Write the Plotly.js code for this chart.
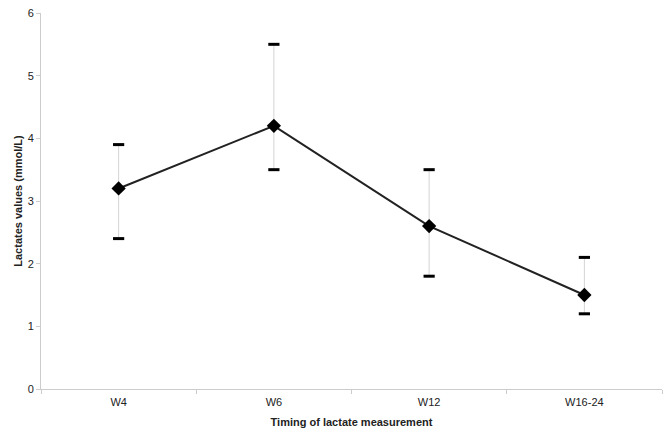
<!DOCTYPE html>
<html>
<head>
<meta charset="utf-8">
<script src="https://cdn.plot.ly/plotly-3.0.1.min.js"></script>
<style>
body{margin:0;background:#fff;}
#graph{width:672px;height:433px;}
</style>
</head>
<body>
<div id="graph"></div>
<script>
let weeks = ['W4','W6','W12','W16-24'];
let lactate = [3.2,4.2,2.6,1.5];
let upper = [3.9,5.5,3.5,2.1];
let lower = [2.4,3.5,1.8,1.2];

let plus = lactate.map((v,i)=>upper[i]-v);
let minus = lactate.map((v,i)=>v-lower[i]);

Plotly.newPlot('graph',[

// thin grey whiskers
{
x:weeks,
y:lactate,
mode:'lines+markers',
line:{color:'#222',width:2},
marker:{symbol:'diamond',size:11,color:'#000'},
error_y:{
type:'data',
symmetric:false,
array:plus,
arrayminus:minus,
color:'#d4d4d4',
thickness:1,
width:0
},
showlegend:false,
hoverinfo:'skip'
},

// black caps on the whiskers
{
x:weeks.concat(weeks),
y:upper.concat(lower),
mode:'markers',
marker:{symbol:'line-ew',size:8,line:{color:'#000',width:3}},
showlegend:false,
hoverinfo:'skip'
}

],

{
width:672,
height:433,
margin:{l:41,r:10,t:13,b:44},
paper_bgcolor:'#fff',
plot_bgcolor:'#fff',
font:{family:'Liberation Sans, Arial, sans-serif',size:11,color:'#222'},

xaxis:{
type:'category',
range:[-0.5,3.5],
tickson:'boundaries',
ticks:'outside',
ticklen:4,
tickcolor:'#ccc',
ticklabelstandoff:3,
showline:true,
linecolor:'#ccc',
showgrid:false,
zeroline:false,
title:{text:'<b>Timing of lactate measurement</b>',font:{size:11},standoff:11}
},

yaxis:{
range:[0,6],
dtick:1,
ticks:'outside',
ticklen:4,
tickcolor:'#ccc',
showline:true,
linecolor:'#ccc',
showgrid:false,
zeroline:false,
title:{text:'<b>Lactates values (mmol/L)</b>',font:{size:11},standoff:2}
}
},

{staticPlot:true}

);
</script>
</body>
</html>
